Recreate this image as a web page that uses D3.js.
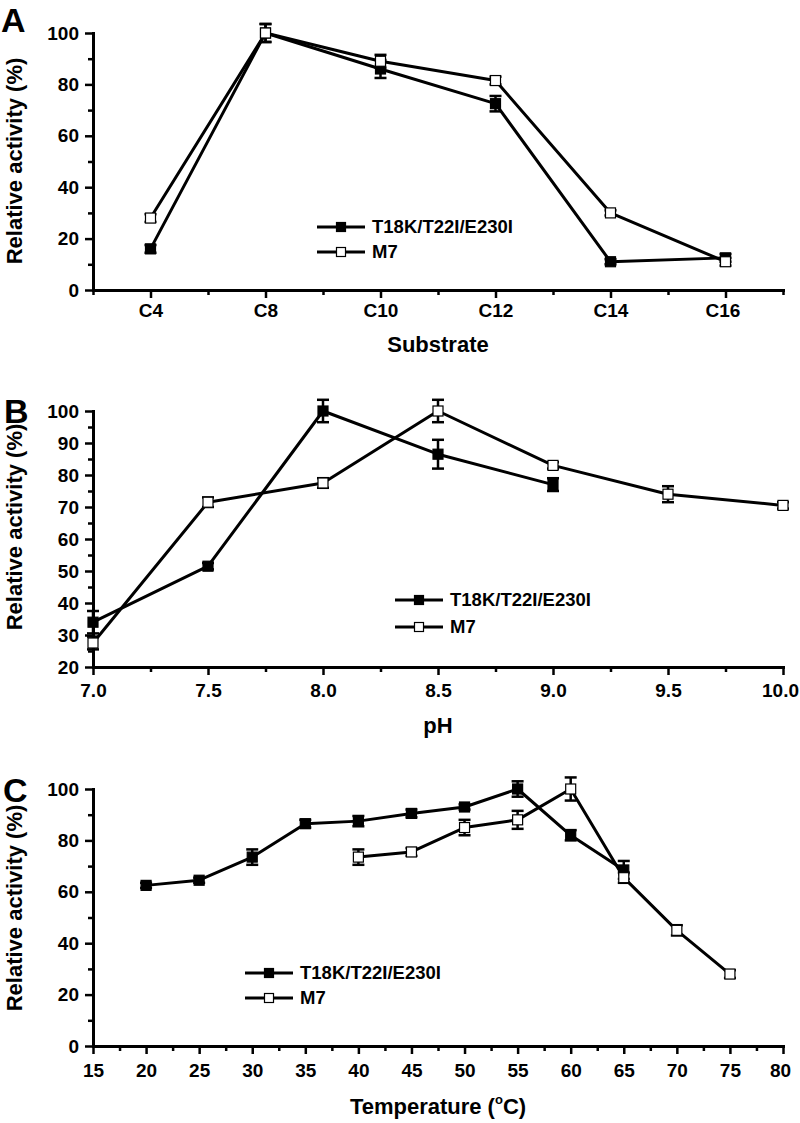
<!DOCTYPE html>
<html>
<head>
<meta charset="utf-8">
<script src="https://cdn.jsdelivr.net/npm/d3@7"></script>
<style>
  html, body { margin: 0; padding: 0; background: #fff; }
  svg { display: block; }
  text { font-family: "Liberation Sans", Arial, Helvetica, sans-serif; font-weight: bold; fill: #000; }
</style>
</head>
<body>
<svg id="chart" width="800" height="1123"></svg>
<script>
// ---------- Data ----------
const seriesNames = ["T18K/T22I/E230I", "M7"];

// Panel A: substrate
const substrates = ["C4", "C8", "C10", "C12", "C14", "C16"];
const subT18K = [16, 100, 86, 72.5, 11, 12.5];
const subT18KErr = [1.5, 3.5, 3.5, 3, 1, 1.5];
const subM7 = [28, 100, 89, 81.5, 30, 11];
const subM7Err = [1.5, 3.5, 2.5, 1.5, 1, 1.5];
const subYTicks = [0, 20, 40, 60, 80, 100];

// Panel B: pH
const pHT18KX = [7.0, 7.5, 8.0, 8.5, 9.0];
const pHT18K = [34, 51.5, 100, 86.5, 77];
const pHT18KErr = [3.5, 1, 3.5, 4.5, 2];
const pHM7X = [7.0, 7.5, 8.0, 8.5, 9.0, 9.5, 10.0];
const pHM7 = [27.5, 71.5, 77.5, 100, 83, 74, 70.5];
const pHM7Err = [2, 1.5, 1.5, 3.5, 1, 2.5, 1];
const pHXTicks = [7.0, 7.5, 8.0, 8.5, 9.0, 9.5, 10.0];
const pHYTicks = [20, 30, 40, 50, 60, 70, 80, 90, 100];

// Panel C: temperature
const tempT18KX = [20, 25, 30, 35, 40, 45, 50, 55, 60, 65];
const tempT18K = [62.5, 64.5, 73.5, 86.5, 87.5, 90.5, 93, 100, 82, 68.5];
const tempT18KErr = [1, 1, 3, 1.5, 2, 1.5, 1, 3, 2, 3.5];
const tempM7X = [40, 45, 50, 55, 60, 65, 70, 75];
const tempM7 = [73.5, 75.5, 85, 88, 100, 65.5, 45, 28];
const tempM7Err = [3, 1.5, 3, 3.5, 4.5, 2, 2, 1.5];
const tempXTicks = [15, 20, 25, 30, 35, 40, 45, 50, 55, 60, 65, 70, 75, 80];
const tempYTicks = [0, 20, 40, 60, 80, 100];

// ---------- Drawing ----------
const svg = d3.select("#chart");
const X0 = 93, X1 = 783;
const MS = 10; // marker size

function drawPanel(cfg) {
  const g = svg.append("g");
  const x = d3.scaleLinear().domain(cfg.xDomain).range([X0, X1]);
  const y = d3.scaleLinear().domain(cfg.yDomain).range([cfg.yBottom, cfg.yTop]);

  g.append("g").attr("transform", `translate(0,${cfg.yBottom})`)
    .call(d3.axisBottom(x).tickValues(cfg.xMinor).tickFormat("").tickSize(5).tickSizeOuter(0));
  const xMajor = g.append("g").attr("transform", `translate(0,${cfg.yBottom})`)
    .call(d3.axisBottom(x).tickValues(cfg.xMajor).tickFormat(cfg.xFormat).tickSize(8).tickPadding(8).tickSizeOuter(0));
  xMajor.selectAll("text").attr("font-size", 19).attr("dy", null).attr("y", cfg.xLabelOffset)
    .style("font-family", "Liberation Sans, Arial, sans-serif").style("font-weight", "bold");
  // keep the last label inside the page
  xMajor.selectAll(".tick").filter((d, i, n) => i === n.length - 1).select("text").attr("dx", -3);
  g.append("g").attr("transform", `translate(${X0},0)`)
    .call(d3.axisLeft(y).tickValues(cfg.yMinor).tickFormat("").tickSize(5).tickSizeOuter(0));
  const yMajor = g.append("g").attr("transform", `translate(${X0},0)`)
    .call(d3.axisLeft(y).tickValues(cfg.yMajor).tickFormat(d3.format("d")).tickSize(8).tickPadding(6).tickSizeOuter(0));
  yMajor.selectAll("text").attr("font-size", 19)
    .style("font-family", "Liberation Sans, Arial, sans-serif").style("font-weight", "bold");

  g.selectAll(".domain").attr("stroke", "#000").attr("stroke-width", 3).attr("stroke-linecap", "square");
  g.selectAll(".tick line").attr("stroke", "#000").attr("stroke-width", 2.5);

  const line = d3.line().x(d => x(d.x)).y(d => y(d.y));
  cfg.series.forEach(s => {
    const data = s.xs.map((xv, i) => ({ x: xv, y: s.ys[i], e: s.errs[i] }));
    g.append("path").datum(data).attr("d", line)
      .attr("fill", "none").attr("stroke", "#000").attr("stroke-width", 3).attr("stroke-linejoin", "round");
    const eb = g.append("g");
    data.forEach(d => {
      const cx = x(d.x), yt = y(d.y + d.e), yb = y(d.y - d.e);
      eb.append("line").attr("x1", cx).attr("x2", cx).attr("y1", yt).attr("y2", yb)
        .attr("stroke", "#000").attr("stroke-width", 2.5);
      [yt, yb].forEach(yy => eb.append("line").attr("x1", cx - 6).attr("x2", cx + 6)
        .attr("y1", yy).attr("y2", yy).attr("stroke", "#000").attr("stroke-width", 2.5));
    });
    g.append("g").selectAll("rect").data(data).join("rect")
      .attr("x", d => x(d.x) - MS / 2).attr("y", d => y(d.y) - MS / 2)
      .attr("width", MS).attr("height", MS)
      .attr("fill", s.filled ? "#000" : "#fff").attr("stroke", "#000").attr("stroke-width", 1.2);
  });

  const lg = g.append("g");
  cfg.series.forEach((s, i) => {
    const ly = cfg.legendY + i * cfg.legendGap;
    lg.append("line").attr("x1", cfg.legendX).attr("x2", cfg.legendX + 48).attr("y1", ly).attr("y2", ly)
      .attr("stroke", "#000").attr("stroke-width", 3);
    lg.append("rect").attr("x", cfg.legendX + 24 - 4.5).attr("y", ly - 4.5).attr("width", 9).attr("height", 9)
      .attr("fill", s.filled ? "#000" : "#fff").attr("stroke", "#000").attr("stroke-width", 1.2);
    lg.append("text").attr("x", cfg.legendX + 55).attr("y", ly).attr("dy", "0.35em")
      .attr("font-size", 18.5).text(s.name);
  });

  svg.append("text")
    .attr("transform", `translate(22,${cfg.yTitleY}) rotate(-90)`)
    .attr("text-anchor", "middle").attr("font-size", 22).text("Relative activity (%)");
  const xt = svg.append("text").attr("x", (X0 + X1) / 2).attr("y", cfg.xTitleY)
    .attr("text-anchor", "middle").attr("font-size", 22);
  if (cfg.xTitleSup) {
    xt.append("tspan").text(cfg.xTitle);
    xt.append("tspan").attr("font-size", 13).attr("dy", -10).text(cfg.xTitleSup);
    xt.append("tspan").attr("dy", 10).text(cfg.xTitleEnd);
  } else {
    xt.text(cfg.xTitle);
  }
  svg.append("text").attr("x", cfg.letterX).attr("y", cfg.letterY).attr("font-size", 34).text(cfg.letter);
}

function range(a, b, step) {
  const out = [];
  for (let v = a; v <= b + 1e-9; v += step) out.push(+v.toFixed(4));
  return out;
}

drawPanel({
  letter: "A", letterX: 1, letterY: 32,
  xDomain: [-0.5, substrates.length - 0.5], yDomain: [0, 100],
  yTop: 33, yBottom: 290,
  xMajor: substrates.map((d, i) => i), xMinor: range(-0.5, substrates.length - 0.5, 1),
  xFormat: i => substrates[i], xLabelOffset: 27,
  yMajor: subYTicks, yMinor: [10, 30, 50, 70, 90],
  series: [
    { name: seriesNames[0], xs: substrates.map((d, i) => i), ys: subT18K, errs: subT18KErr, filled: true },
    { name: seriesNames[1], xs: substrates.map((d, i) => i), ys: subM7, errs: subM7Err, filled: false }
  ],
  legendX: 317, legendY: 227, legendGap: 25,
  yTitleY: 161, xTitleY: 352, xTitle: "Substrate"
});

drawPanel({
  letter: "B", letterX: 4, letterY: 423,
  xDomain: [7.0, 10.0], yDomain: [20, 100],
  yTop: 411, yBottom: 667,
  xMajor: pHXTicks, xMinor: range(7.25, 9.75, 0.5),
  xFormat: d3.format(".1f"), xLabelOffset: 30,
  yMajor: pHYTicks, yMinor: range(25, 95, 10),
  series: [
    { name: seriesNames[0], xs: pHT18KX, ys: pHT18K, errs: pHT18KErr, filled: true },
    { name: seriesNames[1], xs: pHM7X, ys: pHM7, errs: pHM7Err, filled: false }
  ],
  legendX: 395, legendY: 600, legendGap: 27,
  yTitleY: 527, xTitleY: 733, xTitle: "pH"
});

drawPanel({
  letter: "C", letterX: 3, letterY: 802,
  xDomain: [15, 80], yDomain: [0, 100],
  yTop: 789, yBottom: 1046,
  xMajor: tempXTicks, xMinor: range(17.5, 77.5, 5),
  xFormat: d3.format("d"), xLabelOffset: 31,
  yMajor: tempYTicks, yMinor: [10, 30, 50, 70, 90],
  series: [
    { name: seriesNames[0], xs: tempT18KX, ys: tempT18K, errs: tempT18KErr, filled: true },
    { name: seriesNames[1], xs: tempM7X, ys: tempM7, errs: tempM7Err, filled: false }
  ],
  legendX: 245, legendY: 973, legendGap: 25,
  yTitleY: 908, xTitleY: 1114, xTitle: "Temperature (", xTitleSup: "o", xTitleEnd: "C)"
});
</script>
</body>
</html>
